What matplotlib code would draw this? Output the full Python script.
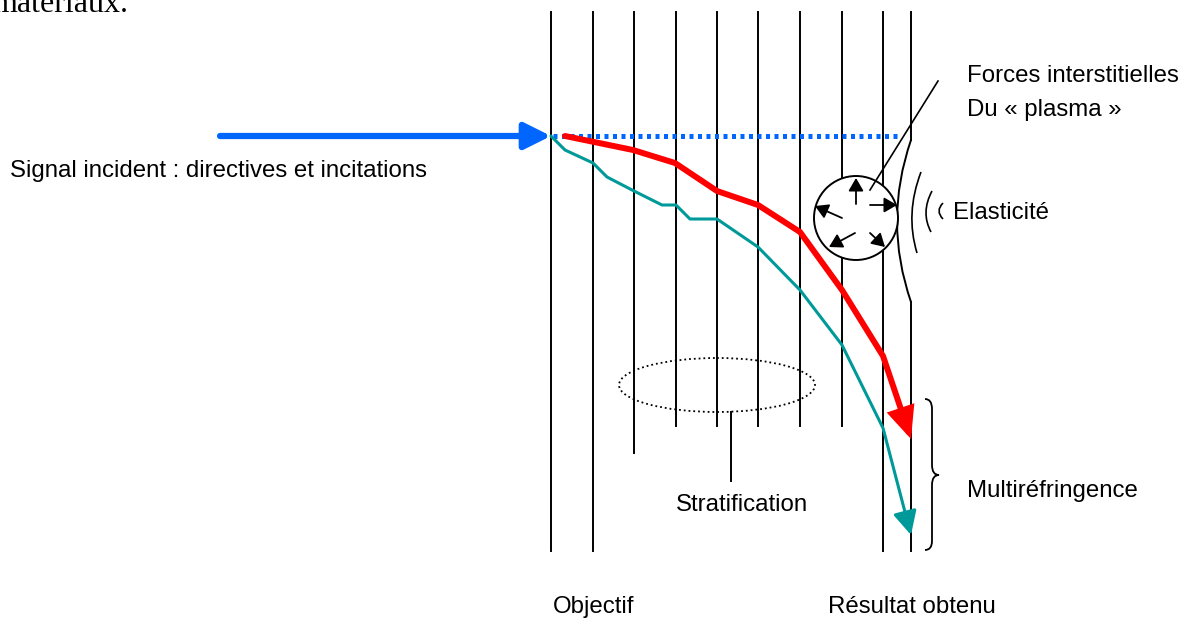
import numpy as np
import matplotlib
matplotlib.use("Agg")
import matplotlib.pyplot as plt
from matplotlib.patches import Circle, Ellipse, PathPatch, FancyArrowPatch
from matplotlib.path import Path

plt.rcParams['font.family'] = ['Liberation Sans', 'DejaVu Sans']

# couches verticales (x, bas), toutes partent de y=12
layer_x = [551, 593, 634, 676, 717, 758, 800, 842, 883]
layer_bottom = [551, 551, 453, 426, 426, 426, 426, 426, 551]
layer_top = 12
# derniere couche, deformee par la bulle
last_x = 911
bulge = [(911, 140), (883, 221), (911, 302)]

# signal incident
signal_start = (220, 136)
signal_end = (551, 136)
target_line = [(553, 136), (897, 136)]

# trajets refractes
red_x = [565, 633, 675, 717, 758, 800, 842, 883, 911]
red_y = [136, 150, 163, 191, 205, 232, 290, 356, 439]
teal_x = [551, 565, 593, 607, 634, 662, 676, 690, 717, 758, 800, 842, 883, 911]
teal_y = [136, 150, 163, 177, 191, 205, 205, 219, 219, 247, 290, 345, 428, 535]

# bulle "plasma"
bubble_center = (856, 218)
bubble_r = 42
force_starts = [(856, 204), (870, 205), (842, 218), (855, 233), (870, 233)]
force_ends = [(856, 178), (897, 205), (815, 206), (829, 247), (885, 247)]

# arcs d'elasticite (debut, milieu, fin)
elastic_arcs = [[(921, 172), (912, 213), (917, 253)],
                [(932, 191), (926, 212), (931, 232)],
                [(943, 203), (939, 211), (943, 219)]]

labels = [
    ("Signal incident : directives et incitations", 10, 177, 'left'),
    ("Forces interstitielles", 967, 82, 'left'),
    ("Du « plasma »", 967, 116, 'left'),
    ("Elasticité", 953, 219, 'left'),
    ("Stratification", 742, 511, 'center'),
    ("Multiréfringence", 967, 497, 'left'),
    ("Objectif", 553, 613, 'left'),
    ("Résultat obtenu", 828, 613, 'left'),
]

fig = plt.figure(figsize=(11.88, 6.18), dpi=100)
ax = fig.add_axes([0, 0, 1, 1])
ax.set_xlim(0, 1188)
ax.set_ylim(618, 0)
ax.axis('off')

blue = '#0066ff'
for x, b in zip(layer_x, layer_bottom):
    ax.plot([x, x], [layer_top, b], color='black', lw=1.4, zorder=1)

ax.plot([last_x, last_x], [layer_top, bulge[0][1]], color='black', lw=1.4, zorder=1)
ax.add_patch(PathPatch(Path(bulge, [Path.MOVETO, Path.CURVE3, Path.CURVE3]),
                       fill=False, lw=1.4, ec='black', zorder=1))
ax.plot([last_x, last_x], [bulge[-1][1], 551], color='black', lw=1.4, zorder=1)

# signal et objectif vise
ax.annotate('', xy=signal_end, xytext=signal_start,
            arrowprops=dict(arrowstyle='-|>,head_length=0.8,head_width=0.4',
                            lw=4.5, color=blue, mutation_scale=20,
                            shrinkA=0, shrinkB=0), zorder=3)
ax.plot([p[0] for p in target_line], [p[1] for p in target_line], color=blue,
        lw=3.6, linestyle=(0, (0.8, 0.9)), dash_capstyle='butt', zorder=2)

red = FancyArrowPatch(path=Path(list(zip(red_x, red_y))),
                      arrowstyle='-|>,head_length=0.9,head_width=0.4',
                      mutation_scale=18, lw=4.3, color='#ff0000', zorder=3,
                      joinstyle='miter')
ax.add_patch(red)
teal = FancyArrowPatch(path=Path(list(zip(teal_x, teal_y))),
                       arrowstyle='-|>,head_length=0.9,head_width=0.45',
                       mutation_scale=16, lw=2.2, color='#009999', zorder=3)
ax.add_patch(teal)

# bulle
ax.add_patch(Circle(bubble_center, bubble_r, fc='white', ec='black', lw=1.4, zorder=4))
for s, e in zip(force_starts, force_ends):
    ax.annotate('', xy=e, xytext=s,
                arrowprops=dict(arrowstyle='-|>,head_length=0.6,head_width=0.35',
                                lw=1.3, color='black', mutation_scale=13,
                                shrinkA=0, shrinkB=0), zorder=5)
ax.plot([870, 938], [190, 81], color='black', lw=1.2, zorder=5)

for p0, pm, p1 in elastic_arcs:
    ctrl = (2 * pm[0] - (p0[0] + p1[0]) / 2, 2 * pm[1] - (p0[1] + p1[1]) / 2)
    ax.add_patch(PathPatch(Path([p0, ctrl, p1], [Path.MOVETO, Path.CURVE3, Path.CURVE3]),
                           fill=False, lw=1.2, ec='black'))

# stratification
ax.add_patch(Ellipse((717, 385), 196, 54, fill=False, ec='black', lw=1.3, ls=':', zorder=2))
ax.plot([731, 731], [412, 481], color='black', lw=1.4)

# accolade multirefringence
brace = [(925, 399), (932, 399), (932, 409), (932, 465), (932, 475), (939, 475),
         (932, 475), (932, 485), (932, 541), (932, 550), (925, 550)]
codes = [Path.MOVETO, Path.CURVE3, Path.CURVE3, Path.LINETO, Path.CURVE3, Path.CURVE3,
         Path.CURVE3, Path.CURVE3, Path.LINETO, Path.CURVE3, Path.CURVE3]
ax.add_patch(PathPatch(Path(brace, codes), fill=False, lw=1.3, ec='black'))

for txt, x, y, ha in labels:
    ax.text(x, y, txt, fontsize=17.3, ha=ha, va='baseline', color='black')

ax.text(128, 12, "matériaux.", fontsize=23, ha='right', va='baseline',
        family=['Liberation Serif', 'DejaVu Serif'])

fig.savefig('out.png', dpi=100)
